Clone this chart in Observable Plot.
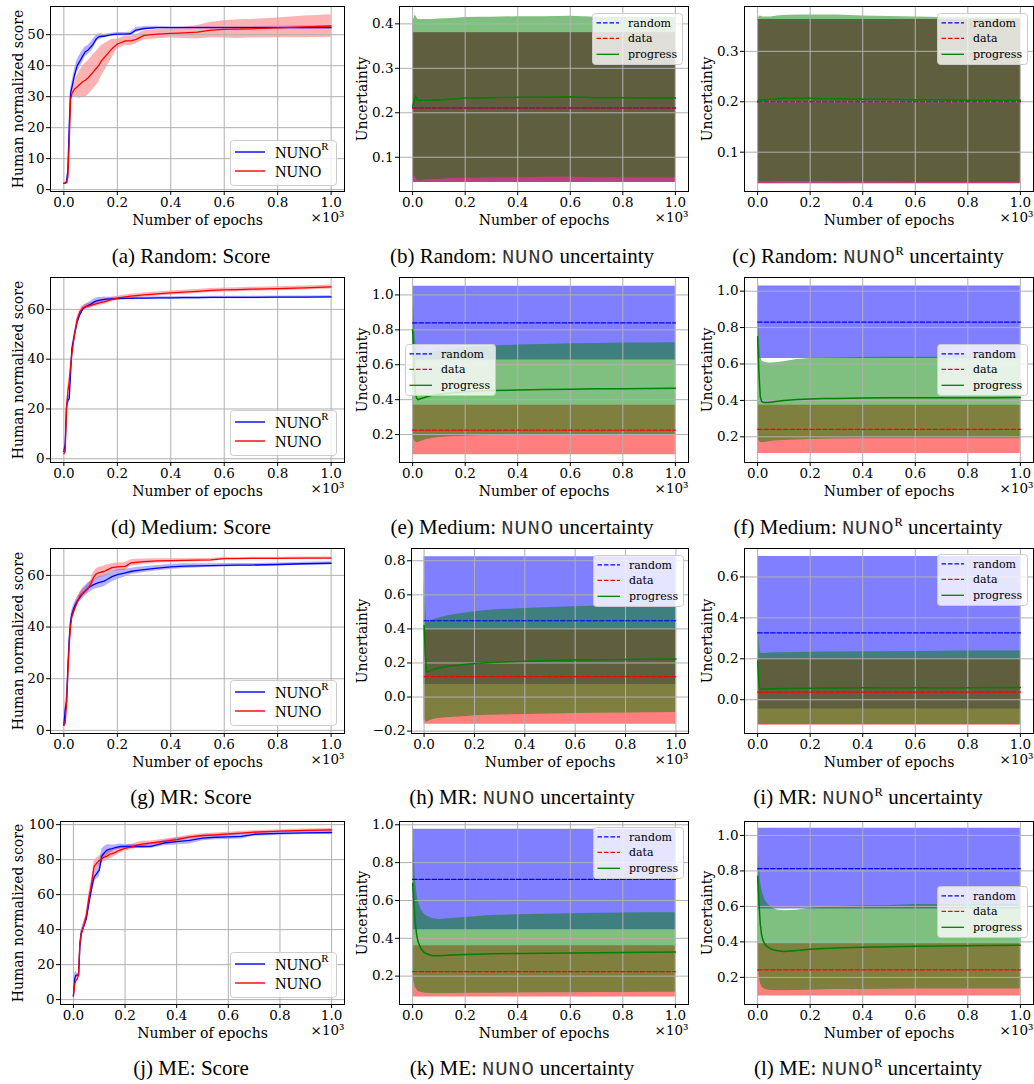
<!DOCTYPE html>
<html><head><meta charset="utf-8">
<script src="https://cdn.jsdelivr.net/npm/d3@7"></script>
<script src="https://cdn.jsdelivr.net/npm/@observablehq/plot@0.6"></script>
<style>
body{margin:0;background:#fff;}
#page{position:relative;width:1034px;height:1084px;overflow:hidden;background:#fff;}
.cap{position:absolute;font-family:"Liberation Serif","Times New Roman",serif;font-size:21px;white-space:nowrap;transform:translateX(-50%);line-height:21px;color:#000;}
.tt{font-family:"Liberation Mono",monospace;font-size:20.5px;color:#333;letter-spacing:0.8px;}
.cap sup{font-size:12.5px;vertical-align:0;position:relative;top:-8px;font-family:"Liberation Serif",serif;}
</style></head><body><div id="page"></div>
<script>
// ---------------- data ----------------
const xTicks = [0, 200, 400, 600, 800, 1000];
const xTickLabels = ["0.0", "0.2", "0.4", "0.6", "0.8", "1.0"];

const scoreEpochs = [0,5,10,15,20,25,30,40,50,60,70,80,90,100,110,120,130,140,150,160,180,200,230,250,270,300,350,400,450,500,550,600,650,700,800,900,1000];

// (a) Random: Score
const aNunoRMean = [2,2,2.5,6,20,31,33,37,40,41.5,43,44.5,45,46,47,48.5,49.3,49.5,49.5,49.7,50,50.2,50.2,50.3,51.5,52,52.3,52.3,52.3,52.3,52.3,52.3,52.3,52.3,52.3,52.3,52.3];
const aNunoRStd  = [0.3,0.3,0.5,1,2,1.5,1.5,2,2,2,2,1.5,1.5,1.5,1.5,1.2,1,0.8,0.6,0.5,0.5,0.5,0.5,0.6,0.8,0.6,0.4,0.3,0.3,0.3,0.3,0.3,0.3,0.3,0.4,0.5,0.5];
const aNunoMean  = [2,2,2.3,4,15,29,31,32.5,33.2,34,34.8,35.3,36,37,38,39,40,41.5,42.5,43.5,45.5,47,48,48,48.5,49.8,50.2,50.4,50.6,50.8,51.5,51.7,51.8,51.9,52.2,52.5,52.8];
const aNunoStd   = [0.3,0.3,0.5,1.5,3,1.5,1.5,2.5,3.5,4.5,5,5.5,5.5,5.5,5.5,5.5,5.5,5,4.5,4,3,1.5,1.5,1.5,1.5,1.5,1.5,1.5,1.8,2.2,2.5,2.8,3,3,3.2,3.5,3.6];
// (d) Medium: Score
const dNunoRMean = [3,6,21,23.5,24,34,44,50,55,58,60,61,61.5,62,62.8,63.3,63.6,63.8,64,64.1,64.2,64.3,64.4,64.4,64.5,64.5,64.6,64.6,64.7,64.7,64.8,64.8,64.8,64.8,64.9,64.9,65];
const dNunoRStd  = [0.5,1,1.5,1.5,1.5,1.5,1.5,1.2,1,1,1,1,1.2,1.2,1.2,1.2,1.2,1,1,0.8,0.7,0.6,0.5,0.5,0.5,0.5,0.5,0.5,0.5,0.5,0.5,0.5,0.5,0.5,0.5,0.5,0.5];
const dNunoMean  = [2,3,20,27,31,37,42,50,56,59,60.5,61,61.3,61.6,61.9,62.2,62.5,62.8,63,63.3,64,64.5,65,65.3,65.5,65.8,66.2,66.6,66.9,67.2,67.6,67.8,67.9,68.1,68.3,68.6,69];
const dNunoStd   = [0.5,1,1.5,1.5,1.5,1.5,1.5,1.2,1,1,1,1,1,1,1,1,1,1,1,0.9,0.9,0.8,0.8,0.8,0.8,0.8,0.8,0.8,0.8,0.8,0.8,0.8,0.8,0.8,0.8,0.8,0.8];
// (g) MR: Score
const gNunoRMean = [2,8,11,24,35,42,45,48,50,51.5,53,54,55,55.7,56.3,56.8,57.2,57.5,57.8,58.3,59.5,60.3,61,61.5,61.8,62.2,62.8,63.3,63.6,63.7,63.8,63.9,64,64,64.2,64.5,64.7];
const gNunoRStd  = [0.5,3,3,2,2,1.5,1.5,1.5,1.5,1.5,2,2,2,2,2,2,2.2,2.2,2.2,2,2,2,1.5,1.2,1.2,1.1,1,1,0.9,0.8,0.7,0.7,0.6,0.6,0.6,0.6,0.6];
const gNunoMean  = [2,3,10,22,33,40,44,47,49.5,52,53,54,55,56.5,59,60.5,61,61.3,61.5,62,63,63.3,63.5,64.8,65,65.3,65.6,65.7,65.8,65.9,66,66.5,66.5,66.6,66.6,66.7,66.7];
const gNunoStd   = [0.5,1,2,2,2,1.5,1.5,1.5,1.5,1.5,1.5,1.5,1.5,1.5,2,2,2,2,2,2,1.5,1.5,1.5,1.2,1.2,1,0.8,0.7,0.6,0.6,0.5,0.5,0.4,0.4,0.4,0.4,0.4];
// (j) ME: Score
const jNunoRMean = [2,12,14,14,14,30,38,42,46,55,63,70,72,74,82,84,85.5,86,86.3,86.8,87.5,87.5,87.5,87.5,87.5,87.6,89.5,90.3,91,92.3,92.8,93,93.3,94.5,95,95.3,95.5];
const jNunoRStd  = [0.5,3,2,1,1,2,2,2,2,3,3,3,3,4,4,3.5,3,2.5,2,1.5,1.5,1.2,1.2,1.2,1.2,1.2,1.5,2,2,1.5,1.5,1.5,1.5,1.2,1,1,1];
const jNunoMean  = [2,9,11,12,14,32,37,42,48,58,66,76,78,79.5,80.5,81.5,82,83,83.5,84,85.5,86.5,87.5,88.5,89,89.5,90.5,91.5,93,93.8,94.2,94.7,95.2,95.7,96.3,96.7,97];
const jNunoStd   = [0.5,2,2,1.5,1.5,2,2,2,2,3,3,3,3,2.5,2.5,2.5,2.5,2.5,2.5,2,2,1.5,1.5,1.5,1.5,1.2,1.2,1.2,1,1,1,1,1,0.8,0.8,0.8,0.8];

const uncEpochs = [0,5,10,15,20,30,40,50,75,100,150,200,250,300,400,500,600,700,800,900,1000];
// [mean, lower, upper] of the flat "random" and "data" bands
const bRandom = [0.211, 0.043, 0.380];
const bData   = [0.211, 0.043, 0.380];
const bProgMean = [0.215,0.225,0.238,0.232,0.228,0.228,0.228,0.228,0.229,0.229,0.231,0.233,0.233,0.234,0.235,0.235,0.236,0.234,0.234,0.233,0.233];
const bProgLo   = [0.055,0.056,0.058,0.050,0.047,0.047,0.048,0.049,0.050,0.050,0.052,0.053,0.053,0.054,0.054,0.055,0.055,0.054,0.054,0.054,0.054];
const bProgHi   = [0.405,0.412,0.420,0.415,0.410,0.410,0.410,0.410,0.410,0.411,0.412,0.414,0.415,0.415,0.416,0.416,0.417,0.415,0.414,0.414,0.414];

const cRandom = [0.200, 0.0375, 0.363];
const cData   = [0.200, 0.0375, 0.363];
const cProgMean = [0.200,0.204,0.205,0.203,0.203,0.204,0.205,0.205,0.206,0.207,0.207,0.207,0.206,0.206,0.205,0.205,0.204,0.204,0.203,0.203,0.203];
const cProgLo   = [0.040,0.041,0.041,0.041,0.041,0.041,0.041,0.041,0.042,0.042,0.042,0.042,0.042,0.041,0.041,0.041,0.040,0.040,0.040,0.040,0.040];
const cProgHi   = [0.365,0.368,0.370,0.369,0.368,0.368,0.368,0.368,0.370,0.371,0.372,0.372,0.372,0.372,0.370,0.369,0.368,0.367,0.367,0.366,0.366];

const eRandom = [0.840, 0.627, 1.050];
const eData   = [0.225, 0.085, 0.368];
const eProgMean = [0.800,0.600,0.450,0.410,0.400,0.405,0.410,0.415,0.425,0.430,0.440,0.445,0.450,0.452,0.455,0.458,0.460,0.462,0.463,0.464,0.466];
const eProgLo   = [0.200,0.170,0.160,0.155,0.155,0.160,0.165,0.170,0.178,0.183,0.188,0.191,0.193,0.195,0.197,0.198,0.199,0.199,0.200,0.200,0.200];
const eProgHi   = [1.000,0.900,0.750,0.680,0.650,0.655,0.660,0.665,0.675,0.680,0.690,0.697,0.702,0.707,0.713,0.716,0.720,0.722,0.724,0.725,0.726];

const fRandom = [0.830, 0.630, 1.029];
const fData   = [0.241, 0.108, 0.374];
const fProgMean = [0.750,0.550,0.420,0.395,0.390,0.388,0.388,0.390,0.395,0.400,0.405,0.408,0.410,0.411,0.413,0.414,0.415,0.415,0.415,0.415,0.416];
const fProgLo   = [0.210,0.180,0.170,0.168,0.168,0.170,0.172,0.175,0.178,0.180,0.183,0.186,0.187,0.188,0.189,0.190,0.190,0.190,0.190,0.190,0.190];
const fProgHi   = [0.950,0.800,0.650,0.620,0.612,0.608,0.606,0.606,0.608,0.612,0.625,0.630,0.632,0.633,0.635,0.637,0.637,0.637,0.637,0.637,0.637];

const hRandom = [0.448, 0.074, 0.823];
const hData   = [0.120, -0.160, 0.400];
const hProgMean = [0.420,0.250,0.150,0.148,0.152,0.158,0.163,0.167,0.175,0.182,0.190,0.197,0.202,0.206,0.210,0.214,0.218,0.219,0.220,0.222,0.224];
const hProgLo   = [-0.130,-0.140,-0.147,-0.145,-0.140,-0.135,-0.130,-0.127,-0.123,-0.120,-0.115,-0.110,-0.107,-0.105,-0.102,-0.100,-0.097,-0.095,-0.093,-0.092,-0.090];
const hProgHi   = [0.680,0.550,0.440,0.440,0.445,0.450,0.455,0.460,0.470,0.478,0.490,0.500,0.508,0.514,0.520,0.525,0.530,0.535,0.535,0.535,0.535];

const iRandom = [0.327, -0.045, 0.700];
const iData   = [0.037, -0.125, 0.200];
const iProgMean = [0.190,0.070,0.052,0.052,0.052,0.053,0.053,0.054,0.054,0.055,0.056,0.056,0.057,0.057,0.058,0.058,0.059,0.059,0.059,0.060,0.060];
const iProgLo   = [-0.118,-0.120,-0.121,-0.121,-0.121,-0.121,-0.121,-0.121,-0.121,-0.121,-0.121,-0.121,-0.121,-0.121,-0.121,-0.121,-0.121,-0.121,-0.121,-0.121,-0.121];
const iProgHi   = [0.500,0.300,0.230,0.226,0.226,0.226,0.227,0.228,0.229,0.230,0.231,0.232,0.233,0.233,0.234,0.235,0.236,0.237,0.238,0.238,0.238];

const kRandom = [0.711, 0.445, 0.977];
const kData   = [0.224, 0.089, 0.360];
const kProgMean = [0.690,0.580,0.480,0.420,0.385,0.350,0.330,0.320,0.308,0.308,0.312,0.314,0.316,0.318,0.320,0.321,0.322,0.324,0.325,0.326,0.327];
const kProgLo   = [0.200,0.170,0.140,0.130,0.120,0.115,0.112,0.110,0.108,0.108,0.108,0.109,0.110,0.110,0.111,0.112,0.112,0.113,0.114,0.115,0.115];
const kProgHi   = [0.980,0.850,0.720,0.650,0.600,0.560,0.535,0.520,0.505,0.500,0.505,0.510,0.515,0.520,0.525,0.527,0.530,0.532,0.534,0.535,0.535];

const lRandom = [0.813, 0.585, 1.041];
const lData   = [0.242, 0.095, 0.390];
const lProgMean = [0.770,0.620,0.500,0.440,0.410,0.380,0.370,0.360,0.350,0.346,0.352,0.358,0.362,0.365,0.370,0.372,0.375,0.377,0.378,0.380,0.381];
const lProgLo   = [0.300,0.220,0.170,0.150,0.140,0.132,0.128,0.126,0.125,0.124,0.126,0.128,0.130,0.131,0.132,0.133,0.134,0.134,0.135,0.135,0.135];
const lProgHi   = [0.980,0.850,0.750,0.700,0.670,0.630,0.610,0.595,0.580,0.575,0.578,0.590,0.595,0.600,0.603,0.605,0.610,0.610,0.610,0.610,0.610];

const scoreYTicksA = [0,10,20,30,40,50];
const scoreYTicks60 = [0,20,40,60];
const scoreYTicks100 = [0,20,40,60,80,100];
const uncYTicksB = [0.1,0.2,0.3,0.4];
const uncYTicksC = [0.1,0.2,0.3];
const uncYTicks1 = [0.2,0.4,0.6,0.8,1.0];
const uncYTicksH = [-0.2,0.0,0.2,0.4,0.6,0.8];
const uncYTicksI = [0.0,0.2,0.4,0.6];

const uncLegendLabels = ["random", "data", "progress"];
const scoreLegendLabels = ["NUNO", "NUNO"];   // first one carries the superscript R

const captions = [
  "(a) Random: Score",
  "(b) Random: <span class='tt'>NUNO</span> uncertainty",
  "(c) Random: <span class='tt'>NUNO</span><sup>R</sup> uncertainty",
  "(d) Medium: Score",
  "(e) Medium: <span class='tt'>NUNO</span> uncertainty",
  "(f) Medium: <span class='tt'>NUNO</span><sup>R</sup> uncertainty",
  "(g) MR: Score",
  "(h) MR: <span class='tt'>NUNO</span> uncertainty",
  "(i) MR: <span class='tt'>NUNO</span><sup>R</sup> uncertainty",
  "(j) ME: Score",
  "(k) ME: <span class='tt'>NUNO</span> uncertainty",
  "(l) ME: <span class='tt'>NUNO</span><sup>R</sup> uncertainty"
];

// ---------------- layout ----------------
const COL_LEFT = [0, 345, 690];
const COL_W = [345, 345, 344];
const COL_FR = [344, 688, 1033];
const COL_YLABEL = [17.7, 362.3, 706.7];
const COL_CAP = [191, 522, 868];
const ROW_TOP = [6, 277, 548, 821];
const ROW_BOTTOM = [191, 462, 733, 1004];
const ROW_CAP_BASE = [263, 534, 804, 1075];
const SERIF = "'DejaVu Serif', serif";

const page = document.getElementById("page");
const fmt1 = d3.format(".1f");
const fmt0 = d3.format("d");

function makePanel(cfg, fills, lines, yLabel, yFmt) {
  const svgLeft = COL_LEFT[cfg.col], W = COL_W[cfg.col];
  const ft = ROW_TOP[cfg.row], fb = ROW_BOTTOM[cfg.row];
  const svgTop = ft - 6;
  const H = fb - svgTop + 42;
  const mL = cfg.fl - svgLeft, mR = svgLeft + W - COL_FR[cfg.col];
  const p = Plot.plot({
    width: W, height: H,
    marginLeft: mL, marginRight: mR, marginTop: 6, marginBottom: 42,
    x: {domain: [-50, 1050]},
    y: {domain: cfg.yDomain},
    style: {fontFamily: SERIF, fontSize: "13.5px", color: "black", background: "transparent", overflow: "visible"},
    marks: [
      ...fills,
      Plot.gridX({ticks: xTicks, stroke: "#b0b0b0", strokeOpacity: 1, strokeWidth: 1}),
      Plot.gridY({ticks: cfg.yTicks, stroke: "#b0b0b0", strokeOpacity: 1, strokeWidth: 1}),
      ...lines,
      Plot.frame({stroke: "black", strokeWidth: 1}),
      Plot.axisX({ticks: xTicks, tickFormat: d => xTickLabels[xTicks.indexOf(d)], tickSize: 4, tickPadding: 2, label: null,
                  fontFamily: SERIF, fontSize: 13.5, fontVariant: "normal"}),
      Plot.axisY({ticks: cfg.yTicks, tickFormat: yFmt, tickSize: 4, tickPadding: 2, label: null,
                  fontFamily: SERIF, fontSize: 13.5, fontVariant: "normal"}),
      Plot.text(["Number of epochs"], {text: d => d, frameAnchor: "bottom", lineAnchor: "bottom", dy: 33, fontSize: 14, fontFamily: SERIF}),
      Plot.text(["×10³"], {text: d => d, frameAnchor: "bottom-right", textAnchor: "end", lineAnchor: "bottom", dy: 30, fontSize: 13.5, fontFamily: SERIF}),
      Plot.text([yLabel], {text: d => d, frameAnchor: "left", rotate: -90, textAnchor: "middle", lineAnchor: "middle",
                           dx: COL_YLABEL[cfg.col] - svgLeft - mL, fontSize: 14, fontFamily: SERIF})
    ]
  });
  p.style.position = "absolute";
  p.style.left = svgLeft + "px";
  p.style.top = svgTop + "px";
  page.appendChild(p);
}

function scorePanel(cfg, rMean, rStd, nMean, nStd) {
  const rows = scoreEpochs.map((x, i) => ({x, rm: rMean[i], rlo: rMean[i] - rStd[i], rhi: rMean[i] + rStd[i],
                                          nm: nMean[i], nlo: nMean[i] - nStd[i], nhi: nMean[i] + nStd[i]}));
  makePanel(cfg,
    [Plot.areaY(rows, {x: "x", y1: "rlo", y2: "rhi", fill: "blue", fillOpacity: 0.3}),
     Plot.areaY(rows, {x: "x", y1: "nlo", y2: "nhi", fill: "red", fillOpacity: 0.3})],
    [Plot.lineY(rows, {x: "x", y: "rm", stroke: "blue", strokeWidth: 1.3}),
     Plot.lineY(rows, {x: "x", y: "nm", stroke: "red", strokeWidth: 1.3})],
    "Human normalized score", fmt0);
}

function uncPanel(cfg, rnd, dat, pm, plo, phi) {
  const prog = uncEpochs.map((x, i) => ({x, m: pm[i], lo: plo[i], hi: phi[i]}));
  const ends = [0, 1000];
  makePanel(cfg,
    [Plot.areaY(ends, {x: d => d, y1: () => rnd[1], y2: () => rnd[2], fill: "blue", fillOpacity: 0.5}),
     Plot.areaY(ends, {x: d => d, y1: () => dat[1], y2: () => dat[2], fill: "red", fillOpacity: 0.5}),
     Plot.areaY(prog, {x: "x", y1: "lo", y2: "hi", fill: "green", fillOpacity: 0.5})],
    [Plot.lineY(ends, {x: d => d, y: () => rnd[0], stroke: "blue", strokeWidth: 1.2, strokeDasharray: "4.5,2"}),
     Plot.lineY(ends, {x: d => d, y: () => dat[0], stroke: "red", strokeWidth: 1.2, strokeDasharray: "4.5,2"}),
     Plot.lineY(prog, {x: "x", y: "m", stroke: "green", strokeWidth: 1.5})],
    "Uncertainty", fmt1);
}

function legendBox(left, top, w, h) {
  const svg = d3.select(page).append("svg")
    .style("position", "absolute").style("left", left + "px").style("top", top + "px")
    .attr("width", w + 2).attr("height", h + 2);
  svg.append("rect").attr("x", 0.5).attr("y", 0.5).attr("width", w).attr("height", h).attr("rx", 3)
    .attr("fill", "white").attr("fill-opacity", 0.8).attr("stroke", "#cccccc").attr("stroke-width", 1);
  return svg;
}

function uncLegend(left, top) {
  const svg = legendBox(left, top, 90, 51);
  const colors = ["blue", "red", "green"], dashes = ["4.5,2", "4.5,2", null], ys = [9.8, 25.3, 41.3];
  uncLegendLabels.forEach((lab, i) => {
    svg.append("line").attr("x1", 4.5).attr("x2", 27).attr("y1", ys[i]).attr("y2", ys[i])
      .attr("stroke", colors[i]).attr("stroke-width", 1.3).attr("stroke-dasharray", dashes[i]);
    svg.append("text").attr("x", 36).attr("y", ys[i]).attr("dy", "0.35em")
      .attr("font-family", SERIF).attr("font-size", 11).text(lab);
  });
}

function scoreLegend(left, top) {
  const svg = legendBox(left, top, 106, 45);
  const colors = ["blue", "red"], ys = [12, 31];
  scoreLegendLabels.forEach((lab, i) => {
    svg.append("line").attr("x1", 5).attr("x2", 35).attr("y1", ys[i]).attr("y2", ys[i])
      .attr("stroke", colors[i]).attr("stroke-width", 1.4);
    const t = svg.append("text").attr("x", 45).attr("y", ys[i]).attr("dy", "0.35em")
      .attr("font-family", "'Liberation Serif', 'Times New Roman', serif").attr("font-size", 16).text(lab);
    if (i === 0) t.append("tspan").attr("font-size", 11).attr("dy", "-0.65em").text("R");
  });
}

// ---------------- panels ----------------
scorePanel({col: 0, row: 0, fl: 50, yDomain: [-0.6, 59.1], yTicks: scoreYTicksA}, aNunoRMean, aNunoRStd, aNunoMean, aNunoStd);
uncPanel({col: 1, row: 0, fl: 399, yDomain: [0.023, 0.439], yTicks: uncYTicksB}, bRandom, bData, bProgMean, bProgLo, bProgHi);
uncPanel({col: 2, row: 0, fl: 744, yDomain: [0.022, 0.389], yTicks: uncYTicksC}, cRandom, cData, cProgMean, cProgLo, cProgHi);

scorePanel({col: 0, row: 1, fl: 50, yDomain: [-1.5, 72.8], yTicks: scoreYTicks60}, dNunoRMean, dNunoRStd, dNunoMean, dNunoStd);
uncPanel({col: 1, row: 1, fl: 399, yDomain: [0.04, 1.10], yTicks: uncYTicks1}, eRandom, eData, eProgMean, eProgLo, eProgHi);
uncPanel({col: 2, row: 1, fl: 744, yDomain: [0.059, 1.075], yTicks: uncYTicks1}, fRandom, fData, fProgMean, fProgLo, fProgHi);

scorePanel({col: 0, row: 2, fl: 50, yDomain: [-1.2, 70.4], yTicks: scoreYTicks60}, gNunoRMean, gNunoRStd, gNunoMean, gNunoStd);
uncPanel({col: 1, row: 2, fl: 411, yDomain: [-0.214, 0.872], yTicks: uncYTicksH}, hRandom, hData, hProgMean, hProgLo, hProgHi);
uncPanel({col: 2, row: 2, fl: 744, yDomain: [-0.165, 0.739], yTicks: uncYTicksI}, iRandom, iData, iProgMean, iProgLo, iProgHi);

scorePanel({col: 0, row: 3, fl: 60, yDomain: [-2.8, 101.8], yTicks: scoreYTicks100}, jNunoRMean, jNunoRStd, jNunoMean, jNunoStd);
uncPanel({col: 1, row: 3, fl: 399, yDomain: [0.05, 1.0175], yTicks: uncYTicks1}, kRandom, kData, kProgMean, kProgLo, kProgHi);
uncPanel({col: 2, row: 3, fl: 744, yDomain: [0.047, 1.0785], yTicks: uncYTicks1}, lRandom, lData, lProgMean, lProgLo, lProgHi);

// ---------------- legends ----------------
scoreLegend(230, 139.5);
scoreLegend(230, 409.5);
scoreLegend(230, 680);
scoreLegend(230, 952);
uncLegend(592, 13);
uncLegend(937, 13);
uncLegend(405, 344);
uncLegend(937, 344);
uncLegend(593, 555);
uncLegend(937, 554);
uncLegend(593, 827);
uncLegend(937, 886);

// ---------------- captions ----------------
captions.forEach((html, k) => {
  const row = Math.floor(k / 3), col = k % 3;
  const div = document.createElement("div");
  div.className = "cap";
  div.innerHTML = html;
  div.style.left = COL_CAP[col] + "px";
  div.style.top = (ROW_CAP_BASE[row] - 17) + "px";
  page.appendChild(div);
});
</script></body></html>
